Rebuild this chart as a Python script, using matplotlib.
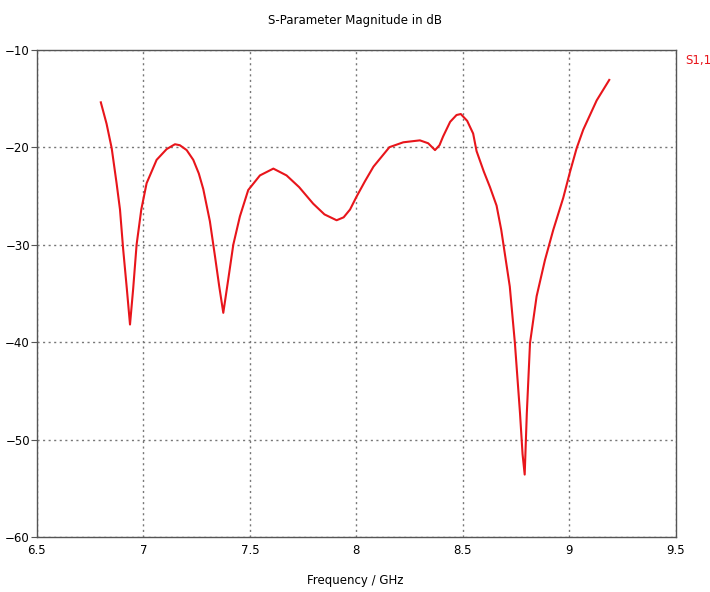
import matplotlib.pyplot as plt

# S1,1
freq_ghz = [6.800, 6.827, 6.851, 6.874, 6.890, 6.905, 6.922, 6.937, 6.952, 6.968,
            6.990, 7.015, 7.062, 7.109, 7.148, 7.171, 7.203, 7.234, 7.260, 7.281,
            7.312, 7.336, 7.356, 7.375, 7.398, 7.422, 7.453, 7.492, 7.547, 7.610,
            7.672, 7.731, 7.797, 7.850, 7.907, 7.940, 7.970, 8.000, 8.040, 8.080,
            8.155, 8.220, 8.298, 8.337, 8.369, 8.390, 8.407, 8.440, 8.470, 8.490,
            8.520, 8.548, 8.564, 8.598, 8.627, 8.658, 8.680, 8.720, 8.744, 8.768,
            8.780, 8.790, 8.800, 8.815, 8.846, 8.885, 8.924, 8.971, 9.002, 9.034,
            9.065, 9.128, 9.187]
s11_db = [-15.4, -17.6, -20.1, -23.7, -26.4, -30.5, -34.5, -38.2, -34.5, -30.0,
          -26.4, -23.7, -21.3, -20.2, -19.7, -19.8, -20.3, -21.3, -22.7, -24.3,
          -27.6, -31.2, -34.3, -37.0, -33.6, -30.0, -27.1, -24.4, -22.9, -22.2,
          -22.9, -24.1, -25.8, -26.9, -27.5, -27.2, -26.4, -25.1, -23.5, -22.0,
          -20.0, -19.5, -19.3, -19.6, -20.3, -19.8, -18.9, -17.4, -16.7, -16.6,
          -17.3, -18.6, -20.4, -22.5, -24.1, -26.0, -28.5, -34.3, -40.1, -47.3,
          -51.5, -53.6, -47.3, -40.1, -35.3, -31.6, -28.5, -25.2, -22.6, -20.1,
          -18.2, -15.2, -13.1]

x_ticks = [6.5, 7, 7.5, 8, 8.5, 9, 9.5]
x_tick_labels = ['6.5', '7', '7.5', '8', '8.5', '9', '9.5']
y_ticks = [-60, -50, -40, -30, -20, -10]

fig = plt.figure(figsize=(7.1, 5.92), dpi=100)
ax = fig.add_axes([0.052, 0.093, 0.900, 0.823])

ax.plot(freq_ghz, s11_db, color='#e8151b', lw=1.5)

ax.set_xlim(6.5, 9.5)
ax.set_ylim(-60, -10)
ax.set_xticks(x_ticks)
ax.set_xticklabels(x_tick_labels)
ax.set_yticks(y_ticks)
ax.tick_params(axis='y', length=4, color='#555555', labelsize=8.5, pad=1)
ax.tick_params(axis='x', length=0, labelsize=8.5, pad=5)
ax.grid(True, linestyle=(0, (1.5, 2.5)), color='#777777', lw=1)

for s in ax.spines.values():
    s.set_color('#555555')
    s.set_linewidth(1.0)

fig.text(0.5, 0.966, 'S-Parameter Magnitude in dB', ha='center', va='center', fontsize=8.5)
fig.text(0.5, 0.019, 'Frequency / GHz', ha='center', va='center', fontsize=8.5)
fig.text(0.965, 0.898, 'S1,1', color='#e8151b', ha='left', va='center', fontsize=8.5)

fig.savefig('out.png', dpi=100)
